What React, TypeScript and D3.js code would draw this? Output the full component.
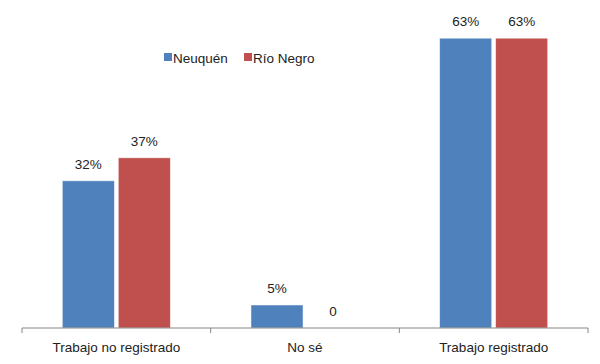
import * as d3 from "d3"

const categories = ["Trabajo no registrado", "No sé", "Trabajo registrado"]
const seriesNames = ["Neuquén", "Río Negro"]
const neuquen = [32, 5, 63]
const rioNegro = [37, 0, 63]
const valueLabels = [
  ["32%", "5%", "63%"],
  ["37%", "0", "63%"],
]
const colors = ["#4F81BD", "#C0504D"]

const width = 600
const height = 364
const font = "'Liberation Sans', Arial, sans-serif"

export default function App() {
  const series = [neuquen, rioNegro]

  const x0 = d3.scaleBand<string>().domain(categories).range([22, 588]).paddingInner(0).paddingOuter(0)
  const x1 = d3
    .scaleBand<string>()
    .domain(seriesNames)
    .range([0, x0.bandwidth()])
    .paddingInner(0.07)
    .paddingOuter(0.72)
  const y = d3.scaleLinear().domain([0, 70]).range([328, 6])

  const ticks = [...categories.map((c) => x0(c)!), x0.range()[1]]

  return (
    <svg
      width={width}
      height={height}
      style={{ position: "absolute", left: 0, top: 0, background: "white" }}
      fontFamily={font}
    >
      {/* bars */}
      {series.map((vals, si) =>
        categories.map((c, ci) => {
          const bx = x0(c)! + x1(seriesNames[si])!
          const top = y(vals[ci])
          return (
            <g key={`${si}-${ci}`}>
              {vals[ci] > 0 && (
                <rect
                  x={bx}
                  y={top}
                  width={x1.bandwidth()}
                  height={y(0) - top}
                  fill={colors[si]}
                  stroke="#ffffff"
                  strokeOpacity={0.6}
                  strokeWidth={0.8}
                />
              )}
              <text
                x={bx + x1.bandwidth() / 2}
                y={top - 12}
                textAnchor="middle"
                fontSize={13.5}
                fill="#222"
              >
                {valueLabels[si][ci]}
              </text>
            </g>
          )
        })
      )}

      {/* axis */}
      <line x1={x0.range()[0]} x2={x0.range()[1]} y1={y(0)} y2={y(0)} stroke="#868686" strokeWidth={1} />
      {ticks.map((t, i) => (
        <line key={i} x1={t} x2={t} y1={y(0)} y2={y(0) + 5} stroke="#868686" strokeWidth={1} />
      ))}
      {categories.map((c) => (
        <text key={c} x={x0(c)! + x0.bandwidth() / 2} y={352} textAnchor="middle" fontSize={13.5} fill="#222">
          {c}
        </text>
      ))}

      {/* legend */}
      {seriesNames.map((s, i) => {
        const lx = [164, 244][i]
        return (
          <g key={s}>
            <rect x={lx} y={53} width={8} height={8} fill={colors[i]} />
            <text x={lx + 9} y={63} fontSize={13.5} fill="#222">
              {s}
            </text>
          </g>
        )
      })}
    </svg>
  )
}
